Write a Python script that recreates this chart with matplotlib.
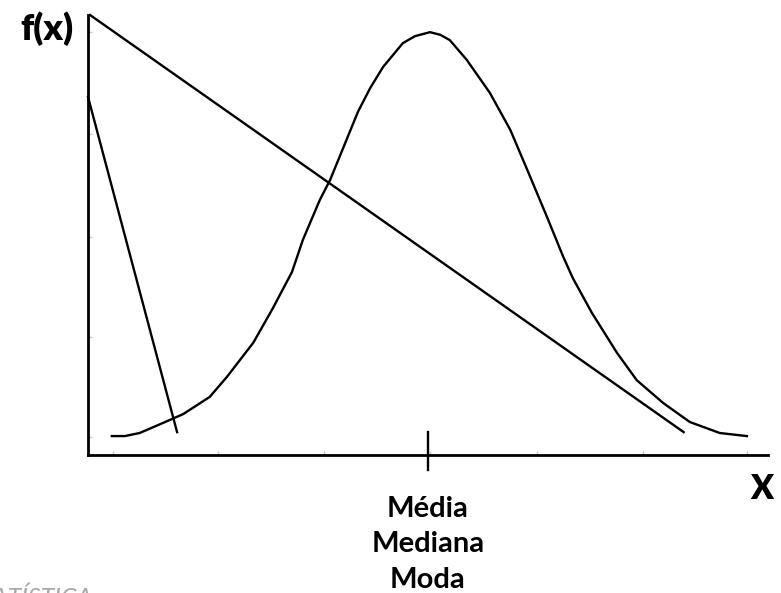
import matplotlib
matplotlib.use("Agg")
import matplotlib.pyplot as plt

# curva, eixo x 0..10, eixo y 0..1
curva_x = [0.35, 0.54, 0.76, 1.06, 1.40, 1.79, 2.04, 2.43, 2.72, 3.00, 3.16,
           3.41, 3.56, 3.74, 3.97, 4.15, 4.34, 4.63, 4.81, 5.03, 5.18, 5.32,
           5.57, 5.91, 6.21, 6.46, 6.75, 6.99, 7.13, 7.41, 7.78, 8.07, 8.46,
           8.85, 9.29, 9.69]
curva_y = [0.043, 0.043, 0.050, 0.070, 0.093, 0.132, 0.177, 0.255, 0.334,
           0.416, 0.489, 0.580, 0.625, 0.693, 0.780, 0.834, 0.882, 0.936,
           0.952, 0.961, 0.955, 0.943, 0.898, 0.823, 0.739, 0.648, 0.541,
           0.450, 0.402, 0.323, 0.232, 0.170, 0.118, 0.075, 0.050, 0.043]

reta_longa_x = [0.03, 8.76]
reta_longa_y = [1.0, 0.052]
reta_curta_x = [0.0, 1.31]
reta_curta_y = [0.814, 0.052]

media = 5.0
ticks_x = [0.37, 1.91, 3.47, 5.03, 6.60, 8.16, 9.69]
ticks_y = [0.041, 0.268, 0.495, 0.730, 0.961]
rotulos = ["Média", "Mediana", "Moda"]

W, H = 781, 593
fig = plt.figure(figsize=(W / 100, H / 100), dpi=100)
ax = fig.add_axes([88 / W, (H - 455) / H, 680 / W, 440 / H])

ax.plot(curva_x, curva_y, color="black", lw=1.7, clip_on=False)
ax.plot(reta_longa_x, reta_longa_y, color="black", lw=1.7, clip_on=False)
ax.plot(reta_curta_x, reta_curta_y, color="black", lw=1.7, clip_on=False)
ax.plot([media, media], [0.052, -0.034], color="black", lw=1.7, clip_on=False)

ax.set_xlim(0, 10)
ax.set_ylim(0, 1)
for s in ["top", "right"]:
    ax.spines[s].set_visible(False)
for s in ["left", "bottom"]:
    ax.spines[s].set_linewidth(2)
ax.set_xticks(ticks_x)
ax.set_yticks(ticks_y)
ax.tick_params(direction="in", length=3, width=1, color="#c8c8c8",
               labelbottom=False, labelleft=False)

fonte = "Lato"
fig.text(47 / W, 1 - 29 / H, "f(x)", ha="center", va="center",
         fontsize=26, fontweight="heavy", family=fonte)
fig.text(762 / W, 1 - 489 / H, "X", ha="center", va="center",
         fontsize=24, fontweight="heavy", family=fonte)
for i, r in enumerate(rotulos):
    fig.text(428 / W, 1 - (509 + 35.5 * i) / H, r, ha="center", va="center",
             fontsize=21, fontweight="bold", family=fonte)

# rodapé cortado, como no original
fig.text(93 / W, 1 - 586 / H, "ESTATÍSTICA", ha="right", va="top",
         fontsize=18, style="italic", color="#a8a8a8", family=fonte)

fig.savefig("out.png", dpi=100)
